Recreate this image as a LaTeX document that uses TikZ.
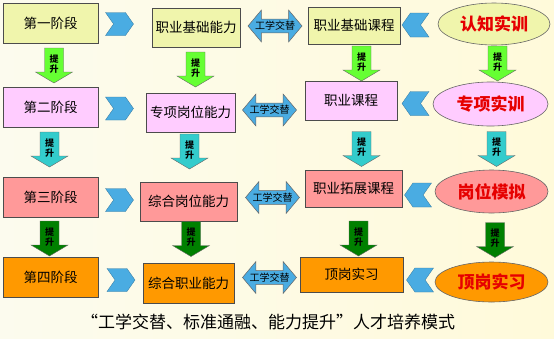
\documentclass[tikz,border=0pt]{standalone}
\usepackage{fontspec}
\setmainfont{Noto Sans CJK SC}
\usepackage{xcolor}
\usepackage{tikz}
\usetikzlibrary{shapes,shapes.arrows,shapes.symbols,positioning}

\definecolor{bgL}{RGB}{252,251,238}
\definecolor{bgR}{RGB}{255,250,218}
\definecolor{cA}{RGB}{240,245,172}
\definecolor{cB}{RGB}{255,204,255}
\definecolor{cC}{RGB}{255,153,153}
\definecolor{cD}{RGB}{255,153,0}
\definecolor{chev}{RGB}{74,172,226}
\definecolor{upA}{RGB}{102,255,51}
\definecolor{upB}{RGB}{51,204,204}
\definecolor{upC}{RGB}{0,128,0}
\definecolor{redT}{RGB}{230,0,0}

\begin{document}
\begin{tikzpicture}[x=1pt,y=-1pt,every node/.style={inner sep=0pt},
  kbox/.style={draw=black!70, line width=0.6pt, font=\fontsize{13.5}{14}\selectfont},
  sxun/.style={ellipse, draw=black!60, line width=0.6pt, text=redT,
    font=\bfseries\fontsize{17}{18}\selectfont},
  jianR/.style={signal, signal from=west, signal to=east, signal pointer angle=110,
    fill=chev, draw=chev!70!black, line width=0.3pt, minimum width=28pt, minimum height=23pt},
  jianL/.style={signal, signal from=east, signal to=west, signal pointer angle=110,
    fill=chev, draw=chev!70!black, line width=0.3pt, minimum width=27pt, minimum height=24pt},
  jiaoti/.style={double arrow, double arrow head extend=9pt, double arrow tip angle=100,
    minimum height=54pt, fill=chev, draw=black!60, line width=0.5pt,
    font=\fontsize{10}{10}\selectfont, inner ysep=2pt},
  tisheng/.style={draw=black!60, line width=0.4pt},
  tstext/.style={align=center, font=\bfseries\fontsize{9}{10}\selectfont}]
\useasboundingbox (0,0) rectangle (554,338);
% background
\fill[left color=bgL, right color=bgR] (0,0) rectangle (554,338);

% stages
\foreach \n/\y/\c/\t in {1/23/cA/第一阶段, 2/107/cB/第二阶段, 3/197.5/cC/第三阶段, 4/277/cD/第四阶段}{
  \node[kbox, fill=\c, minimum width=95pt, minimum height=40pt] (jd\n) at (50.5,\y) {\t};
}

% abilities
\node[kbox, fill=cA, minimum width=88pt, minimum height=39pt] (nl1) at (196,27.5) {职业基础能力};
\node[kbox, fill=cB, minimum width=89pt, minimum height=39pt] (nl2) at (190.5,112.5) {专项岗位能力};
\node[kbox, fill=cC, minimum width=97pt, minimum height=39pt] (nl3) at (188.5,201.5) {综合岗位能力};
\node[kbox, fill=cD, minimum width=91pt, minimum height=40pt] (nl4) at (188.5,283) {综合职业能力};

% courses
\node[kbox, fill=cA, minimum width=92pt, minimum height=37pt] (kc1) at (354,25.5) {职业基础课程};
\node[kbox, fill=cB, minimum width=92pt, minimum height=39pt] (kc2) at (351,100.5) {职业课程};
\node[kbox, fill=cC, minimum width=97pt, minimum height=37pt] (kc3) at (353.5,188.5) {职业拓展课程};
\node[kbox, fill=cD, minimum width=103pt, minimum height=35pt] (kc4) at (351.5,274.5) {顶岗实习};

% training
\node[sxun, fill=cA, minimum width=112pt, minimum height=42pt] (sx1) at (494,24) {认知实训};
\node[sxun, fill=cB, minimum width=115pt, minimum height=44pt] (sx2) at (490.5,104) {专项实训};
\node[sxun, fill=cC, minimum width=113pt, minimum height=43pt] (sx3) at (491.5,191.5) {岗位模拟};
\node[sxun, fill=cD, minimum width=113pt, minimum height=40pt] (sx4) at (491.5,282) {顶岗实习};

% chevrons
\foreach \n/\x/\y in {1/119.5/24, 2/119.5/108.5, 3/119.5/200, 4/121/280}{
  \node[jianR] (jr\n) at (\x,\y) {};
}
\foreach \n/\x/\y in {1/415.5/25, 2/415.5/103.5, 3/418/195, 4/420/280}{
  \node[jianL] (jl\n) at (\x,\y) {};
}

% work-study arrows
\foreach \n/\x/\y in {1/275/26, 2/269.5/110, 3/272.5/197.5, 4/269.5/277.5}{
  \node[jiaoti] (gx\n) at (\x,\y) {\makebox[0pt]{工学交替}};
}

% upgrade arrows
\foreach \n/\x/\y/\c in {a1/54/65.5/upA, a2/195.5/69.5/upA, a3/361.5/63.5/upA, a4/497.5/63.5/upA,
    b1/49.5/149.5/upB, b2/189.5/151.5/upB, b3/361.5/149/upB, b4/496.5/149/upB,
    c1/49.5/238.5/upC, c2/191/239/upC, c3/358.5/238.5/upC, c4/495/240/upC}{
  \draw[tisheng, fill=\c] (\x-9.5,\y-17.5) -- (\x+9.5,\y-17.5) -- (\x+9.5,\y+6.5)
    -- (\x+18.5,\y+6.5) -- (\x,\y+17.5) -- (\x-18.5,\y+6.5) -- (\x-9.5,\y+6.5) -- cycle;
  \node[tstext] (t\n) at (\x,\y-1.5) {提\\升};
}

% caption
\node[font=\fontsize{17}{18}\selectfont] (biaoti) at (268,322) {“工学交替、标准通融、能力提升”人才培养模式};
\end{tikzpicture}
\end{document}
